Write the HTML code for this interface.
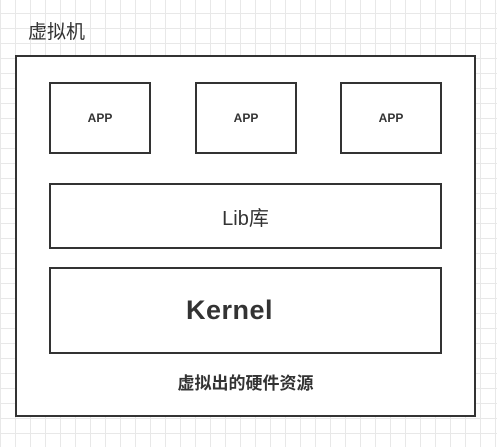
<!DOCTYPE html>
<html><head><meta charset="utf-8"><style>
html,body{margin:0;padding:0}
body{width:497px;height:447px;position:relative;overflow:hidden;background-color:#fff;
background-image:linear-gradient(to right,#e8e8e8 1px,transparent 1px),linear-gradient(to bottom,#e8e8e8 1px,transparent 1px);
background-size:15px 15px;background-position:0 13px;font-family:"Liberation Sans","Noto Sans CJK SC",sans-serif;color:#333}
.b{position:absolute;box-sizing:border-box;border:2px solid #333;background:#fff;display:flex;align-items:center;justify-content:center}
.t{position:absolute}
</style></head><body>
<div class="t" style="left:28px;top:20px;font-size:19px;line-height:26px">虚拟机</div>
<div class="b" style="left:15px;top:55px;width:461px;height:362px"></div>
<div class="b" style="left:49px;top:82px;width:102px;height:72px;font-size:12px;font-weight:bold">APP</div>
<div class="b" style="left:195px;top:82px;width:102px;height:72px;font-size:12px;font-weight:bold">APP</div>
<div class="b" style="left:340px;top:82px;width:102px;height:72px;font-size:12px;font-weight:bold">APP</div>
<div class="b" style="left:49px;top:183px;width:393px;height:66px;font-size:20px">Lib库</div>
<div class="b" style="left:49px;top:267px;width:393px;height:87px;font-size:27px;font-weight:bold;padding-right:32px;letter-spacing:0.5px">Kernel</div>
<div class="t" style="left:15px;width:461px;top:373px;text-align:center;font-size:17px;font-weight:bold;line-height:22px">虚拟出的硬件资源</div>
</body></html>
